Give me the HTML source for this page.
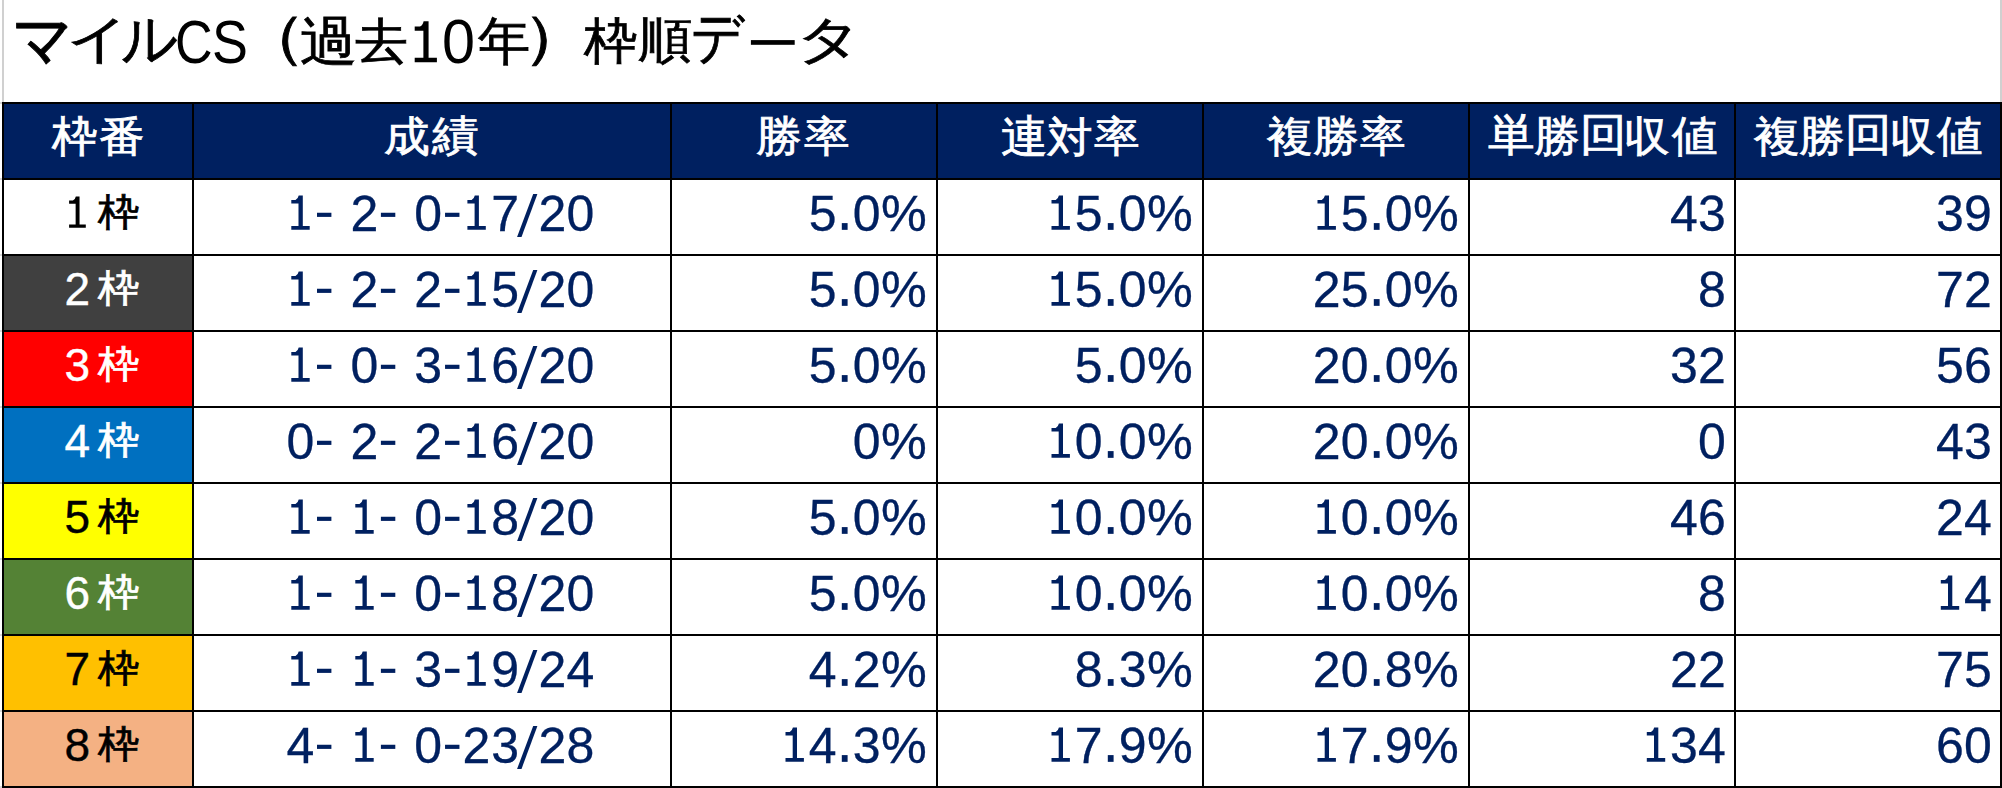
<!DOCTYPE html>
<html><head><meta charset="utf-8"><title>マイルCS（過去10年）枠順データ</title><style>
html,body{margin:0;padding:0;background:#fff;}
body{width:2002px;height:788px;overflow:hidden;position:relative;font-family:"Liberation Sans",sans-serif;}
.a{position:absolute;}
.h{position:absolute;white-space:nowrap;line-height:1;text-align:center;color:#fff;}
i{position:absolute;font-style:normal;line-height:1;white-space:nowrap;transform-origin:0 0;}
svg{position:absolute;left:0;top:0;}
</style></head><body>

<div class="a" style="left:2px;top:0;width:2px;height:102px;background:#d0d0d0"></div>
<div class="a" style="left:2000px;top:0;width:2px;height:102px;background:#d0d0d0"></div>
<div class="a" style="left:0;top:102px;width:2px;height:2px;background:#d8d8d8"></div>
<div class="a" style="left:0;top:178px;width:2px;height:2px;background:#d8d8d8"></div>
<div class="a" style="left:0;top:254px;width:2px;height:2px;background:#d8d8d8"></div>
<div class="a" style="left:0;top:330px;width:2px;height:2px;background:#d8d8d8"></div>
<div class="a" style="left:0;top:406px;width:2px;height:2px;background:#d8d8d8"></div>
<div class="a" style="left:0;top:482px;width:2px;height:2px;background:#d8d8d8"></div>
<div class="a" style="left:0;top:558px;width:2px;height:2px;background:#d8d8d8"></div>
<div class="a" style="left:0;top:634px;width:2px;height:2px;background:#d8d8d8"></div>
<div class="a" style="left:0;top:710px;width:2px;height:2px;background:#d8d8d8"></div>
<div class="a" style="left:0;top:786px;width:2px;height:2px;background:#d8d8d8"></div>
<div class="a" style="left:2px;top:102px;width:2000px;height:76px;background:#002060"></div>
<div class="a" style="left:2px;top:178px;width:190px;height:76px;background:#FFFFFF"></div>
<div class="a" style="left:2px;top:254px;width:190px;height:76px;background:#404040"></div>
<div class="a" style="left:2px;top:330px;width:190px;height:76px;background:#FF0000"></div>
<div class="a" style="left:2px;top:406px;width:190px;height:76px;background:#0070C0"></div>
<div class="a" style="left:2px;top:482px;width:190px;height:76px;background:#FFFF00"></div>
<div class="a" style="left:2px;top:558px;width:190px;height:76px;background:#548235"></div>
<div class="a" style="left:2px;top:634px;width:190px;height:76px;background:#FFC000"></div>
<div class="a" style="left:2px;top:710px;width:190px;height:76px;background:#F4B183"></div>
<div class="a" style="left:2px;top:102px;width:2px;height:686px;background:#000"></div>
<div class="a" style="left:192px;top:102px;width:2px;height:686px;background:#000"></div>
<div class="a" style="left:670px;top:102px;width:2px;height:686px;background:#000"></div>
<div class="a" style="left:936px;top:102px;width:2px;height:686px;background:#000"></div>
<div class="a" style="left:1202px;top:102px;width:2px;height:686px;background:#000"></div>
<div class="a" style="left:1468px;top:102px;width:2px;height:686px;background:#000"></div>
<div class="a" style="left:1734px;top:102px;width:2px;height:686px;background:#000"></div>
<div class="a" style="left:2000px;top:102px;width:2px;height:686px;background:#000"></div>
<div class="a" style="left:2px;top:102px;width:2000px;height:2px;background:#000"></div>
<div class="a" style="left:2px;top:178px;width:2000px;height:2px;background:#000"></div>
<div class="a" style="left:2px;top:254px;width:2000px;height:2px;background:#000"></div>
<div class="a" style="left:2px;top:330px;width:2000px;height:2px;background:#000"></div>
<div class="a" style="left:2px;top:406px;width:2000px;height:2px;background:#000"></div>
<div class="a" style="left:2px;top:482px;width:2000px;height:2px;background:#000"></div>
<div class="a" style="left:2px;top:558px;width:2000px;height:2px;background:#000"></div>
<div class="a" style="left:2px;top:634px;width:2000px;height:2px;background:#000"></div>
<div class="a" style="left:2px;top:710px;width:2000px;height:2px;background:#000"></div>
<div class="a" style="left:2px;top:786px;width:2000px;height:2px;background:#000"></div>
<i style="left:12.33px;top:8.23px;font-size:55px;color:#000;transform:scale(1.0935,1.1971);-webkit-text-stroke:0.8px #000">マ</i>
<i style="left:66.56px;top:13.14px;font-size:55px;color:#000;transform:scale(1.1095,0.9510);-webkit-text-stroke:0.8px #000">イ</i>
<i style="left:120.69px;top:10.29px;font-size:55px;color:#000;transform:scale(1.0111,1.0683);-webkit-text-stroke:0.8px #000">ル</i>
<i style="left:175.39px;top:11.82px;font-size:60px;color:#000;transform:scale(0.8684,1.0195)">C</i>
<i style="left:211.81px;top:11.82px;font-size:60px;color:#000;transform:scale(0.8971,1.0195)">S</i>
<i style="left:238.25px;top:7.70px;font-size:55px;color:#000;transform:scale(1.2500,1.0375);-webkit-text-stroke:0.8px #000">（</i>
<i style="left:299.56px;top:14.94px;font-size:55px;color:#000;transform:scale(1.0373,0.9816);-webkit-text-stroke:0.8px #000">過</i>
<i style="left:355.24px;top:16.90px;font-size:55px;color:#000;transform:scale(0.9577,0.8852);-webkit-text-stroke:0.8px #000">去</i>
<i style="left:442.42px;top:11.27px;font-size:60px;color:#000;transform:scale(0.9897,1.0366)">0</i>
<i style="left:477.50px;top:15.25px;font-size:55px;color:#000;transform:scale(0.9547,0.9500);-webkit-text-stroke:0.8px #000">年</i>
<i style="left:522.43px;top:7.62px;font-size:55px;color:#000;transform:scale(1.2583,1.0354);-webkit-text-stroke:0.8px #000">）</i>
<i style="left:584.40px;top:16.10px;font-size:55px;color:#000;transform:scale(0.9704,0.9038);-webkit-text-stroke:0.8px #000">枠</i>
<i style="left:637.52px;top:16.11px;font-size:55px;color:#000;transform:scale(0.9849,0.8889);-webkit-text-stroke:0.8px #000">順</i>
<i style="left:691.17px;top:7.86px;font-size:55px;color:#000;transform:scale(0.9444,1.0574);-webkit-text-stroke:0.8px #000">デ</i>
<i style="left:795.64px;top:13.86px;font-size:55px;color:#000;transform:scale(1.1925,0.9360);-webkit-text-stroke:0.8px #000">タ</i>
<i style="left:98.00px;top:193.00px;font-size:41px;color:#000;transform:scale(1.0250,0.9375);-webkit-text-stroke:0.8px #000">枠</i>
<i style="left:350.50px;top:189.00px;font-size:50px;color:#002060;-webkit-text-stroke:0.3px #002060">2</i>
<i style="left:414.20px;top:189.00px;font-size:50px;color:#002060;-webkit-text-stroke:0.3px #002060">0</i>
<i style="left:491.20px;top:189.00px;font-size:50px;color:#002060;-webkit-text-stroke:0.3px #002060">7</i>
<i style="left:538.40px;top:189.00px;font-size:50px;color:#002060;-webkit-text-stroke:0.3px #002060">2</i>
<i style="left:566.40px;top:189.00px;font-size:50px;color:#002060;-webkit-text-stroke:0.3px #002060">0</i>
<i style="left:881.18px;top:189.00px;font-size:50px;color:#002060;transform:scaleX(1.03);-webkit-text-stroke:0.3px #002060">%</i>
<i style="left:852.70px;top:189.00px;font-size:50px;color:#002060;-webkit-text-stroke:0.3px #002060">0</i>
<i style="left:808.70px;top:189.00px;font-size:50px;color:#002060;-webkit-text-stroke:0.3px #002060">5</i>
<i style="left:1147.17px;top:189.00px;font-size:50px;color:#002060;transform:scaleX(1.03);-webkit-text-stroke:0.3px #002060">%</i>
<i style="left:1118.70px;top:189.00px;font-size:50px;color:#002060;-webkit-text-stroke:0.3px #002060">0</i>
<i style="left:1074.70px;top:189.00px;font-size:50px;color:#002060;-webkit-text-stroke:0.3px #002060">5</i>
<i style="left:1413.17px;top:189.00px;font-size:50px;color:#002060;transform:scaleX(1.03);-webkit-text-stroke:0.3px #002060">%</i>
<i style="left:1384.70px;top:189.00px;font-size:50px;color:#002060;-webkit-text-stroke:0.3px #002060">0</i>
<i style="left:1340.70px;top:189.00px;font-size:50px;color:#002060;-webkit-text-stroke:0.3px #002060">5</i>
<i style="left:1698.00px;top:189.00px;font-size:50px;color:#002060;-webkit-text-stroke:0.3px #002060">3</i>
<i style="left:1670.00px;top:189.00px;font-size:50px;color:#002060;-webkit-text-stroke:0.3px #002060">4</i>
<i style="left:1964.00px;top:189.00px;font-size:50px;color:#002060;-webkit-text-stroke:0.3px #002060">9</i>
<i style="left:1936.00px;top:189.00px;font-size:50px;color:#002060;-webkit-text-stroke:0.3px #002060">3</i>
<i style="left:64.40px;top:266.00px;font-size:46px;color:#FFF;-webkit-text-stroke:0.4px #FFF">2</i>
<i style="left:98.00px;top:269.00px;font-size:41px;color:#FFF;transform:scale(1.0250,0.9375);-webkit-text-stroke:0.8px #FFF">枠</i>
<i style="left:350.50px;top:265.00px;font-size:50px;color:#002060;-webkit-text-stroke:0.3px #002060">2</i>
<i style="left:414.20px;top:265.00px;font-size:50px;color:#002060;-webkit-text-stroke:0.3px #002060">2</i>
<i style="left:491.20px;top:265.00px;font-size:50px;color:#002060;-webkit-text-stroke:0.3px #002060">5</i>
<i style="left:538.40px;top:265.00px;font-size:50px;color:#002060;-webkit-text-stroke:0.3px #002060">2</i>
<i style="left:566.40px;top:265.00px;font-size:50px;color:#002060;-webkit-text-stroke:0.3px #002060">0</i>
<i style="left:881.18px;top:265.00px;font-size:50px;color:#002060;transform:scaleX(1.03);-webkit-text-stroke:0.3px #002060">%</i>
<i style="left:852.70px;top:265.00px;font-size:50px;color:#002060;-webkit-text-stroke:0.3px #002060">0</i>
<i style="left:808.70px;top:265.00px;font-size:50px;color:#002060;-webkit-text-stroke:0.3px #002060">5</i>
<i style="left:1147.17px;top:265.00px;font-size:50px;color:#002060;transform:scaleX(1.03);-webkit-text-stroke:0.3px #002060">%</i>
<i style="left:1118.70px;top:265.00px;font-size:50px;color:#002060;-webkit-text-stroke:0.3px #002060">0</i>
<i style="left:1074.70px;top:265.00px;font-size:50px;color:#002060;-webkit-text-stroke:0.3px #002060">5</i>
<i style="left:1413.17px;top:265.00px;font-size:50px;color:#002060;transform:scaleX(1.03);-webkit-text-stroke:0.3px #002060">%</i>
<i style="left:1384.70px;top:265.00px;font-size:50px;color:#002060;-webkit-text-stroke:0.3px #002060">0</i>
<i style="left:1340.70px;top:265.00px;font-size:50px;color:#002060;-webkit-text-stroke:0.3px #002060">5</i>
<i style="left:1312.70px;top:265.00px;font-size:50px;color:#002060;-webkit-text-stroke:0.3px #002060">2</i>
<i style="left:1698.00px;top:265.00px;font-size:50px;color:#002060;-webkit-text-stroke:0.3px #002060">8</i>
<i style="left:1964.00px;top:265.00px;font-size:50px;color:#002060;-webkit-text-stroke:0.3px #002060">2</i>
<i style="left:1936.00px;top:265.00px;font-size:50px;color:#002060;-webkit-text-stroke:0.3px #002060">7</i>
<i style="left:64.40px;top:342.00px;font-size:46px;color:#FFF;-webkit-text-stroke:0.4px #FFF">3</i>
<i style="left:98.00px;top:345.00px;font-size:41px;color:#FFF;transform:scale(1.0250,0.9375);-webkit-text-stroke:0.8px #FFF">枠</i>
<i style="left:350.50px;top:341.00px;font-size:50px;color:#002060;-webkit-text-stroke:0.3px #002060">0</i>
<i style="left:414.20px;top:341.00px;font-size:50px;color:#002060;-webkit-text-stroke:0.3px #002060">3</i>
<i style="left:491.20px;top:341.00px;font-size:50px;color:#002060;-webkit-text-stroke:0.3px #002060">6</i>
<i style="left:538.40px;top:341.00px;font-size:50px;color:#002060;-webkit-text-stroke:0.3px #002060">2</i>
<i style="left:566.40px;top:341.00px;font-size:50px;color:#002060;-webkit-text-stroke:0.3px #002060">0</i>
<i style="left:881.18px;top:341.00px;font-size:50px;color:#002060;transform:scaleX(1.03);-webkit-text-stroke:0.3px #002060">%</i>
<i style="left:852.70px;top:341.00px;font-size:50px;color:#002060;-webkit-text-stroke:0.3px #002060">0</i>
<i style="left:808.70px;top:341.00px;font-size:50px;color:#002060;-webkit-text-stroke:0.3px #002060">5</i>
<i style="left:1147.17px;top:341.00px;font-size:50px;color:#002060;transform:scaleX(1.03);-webkit-text-stroke:0.3px #002060">%</i>
<i style="left:1118.70px;top:341.00px;font-size:50px;color:#002060;-webkit-text-stroke:0.3px #002060">0</i>
<i style="left:1074.70px;top:341.00px;font-size:50px;color:#002060;-webkit-text-stroke:0.3px #002060">5</i>
<i style="left:1413.17px;top:341.00px;font-size:50px;color:#002060;transform:scaleX(1.03);-webkit-text-stroke:0.3px #002060">%</i>
<i style="left:1384.70px;top:341.00px;font-size:50px;color:#002060;-webkit-text-stroke:0.3px #002060">0</i>
<i style="left:1340.70px;top:341.00px;font-size:50px;color:#002060;-webkit-text-stroke:0.3px #002060">0</i>
<i style="left:1312.70px;top:341.00px;font-size:50px;color:#002060;-webkit-text-stroke:0.3px #002060">2</i>
<i style="left:1698.00px;top:341.00px;font-size:50px;color:#002060;-webkit-text-stroke:0.3px #002060">2</i>
<i style="left:1670.00px;top:341.00px;font-size:50px;color:#002060;-webkit-text-stroke:0.3px #002060">3</i>
<i style="left:1964.00px;top:341.00px;font-size:50px;color:#002060;-webkit-text-stroke:0.3px #002060">6</i>
<i style="left:1936.00px;top:341.00px;font-size:50px;color:#002060;-webkit-text-stroke:0.3px #002060">5</i>
<i style="left:64.40px;top:418.00px;font-size:46px;color:#FFF;-webkit-text-stroke:0.4px #FFF">4</i>
<i style="left:98.00px;top:421.00px;font-size:41px;color:#FFF;transform:scale(1.0250,0.9375);-webkit-text-stroke:0.8px #FFF">枠</i>
<i style="left:286.50px;top:417.00px;font-size:50px;color:#002060;-webkit-text-stroke:0.3px #002060">0</i>
<i style="left:350.50px;top:417.00px;font-size:50px;color:#002060;-webkit-text-stroke:0.3px #002060">2</i>
<i style="left:414.20px;top:417.00px;font-size:50px;color:#002060;-webkit-text-stroke:0.3px #002060">2</i>
<i style="left:491.20px;top:417.00px;font-size:50px;color:#002060;-webkit-text-stroke:0.3px #002060">6</i>
<i style="left:538.40px;top:417.00px;font-size:50px;color:#002060;-webkit-text-stroke:0.3px #002060">2</i>
<i style="left:566.40px;top:417.00px;font-size:50px;color:#002060;-webkit-text-stroke:0.3px #002060">0</i>
<i style="left:881.18px;top:417.00px;font-size:50px;color:#002060;transform:scaleX(1.03);-webkit-text-stroke:0.3px #002060">%</i>
<i style="left:852.70px;top:417.00px;font-size:50px;color:#002060;-webkit-text-stroke:0.3px #002060">0</i>
<i style="left:1147.17px;top:417.00px;font-size:50px;color:#002060;transform:scaleX(1.03);-webkit-text-stroke:0.3px #002060">%</i>
<i style="left:1118.70px;top:417.00px;font-size:50px;color:#002060;-webkit-text-stroke:0.3px #002060">0</i>
<i style="left:1074.70px;top:417.00px;font-size:50px;color:#002060;-webkit-text-stroke:0.3px #002060">0</i>
<i style="left:1413.17px;top:417.00px;font-size:50px;color:#002060;transform:scaleX(1.03);-webkit-text-stroke:0.3px #002060">%</i>
<i style="left:1384.70px;top:417.00px;font-size:50px;color:#002060;-webkit-text-stroke:0.3px #002060">0</i>
<i style="left:1340.70px;top:417.00px;font-size:50px;color:#002060;-webkit-text-stroke:0.3px #002060">0</i>
<i style="left:1312.70px;top:417.00px;font-size:50px;color:#002060;-webkit-text-stroke:0.3px #002060">2</i>
<i style="left:1698.00px;top:417.00px;font-size:50px;color:#002060;-webkit-text-stroke:0.3px #002060">0</i>
<i style="left:1964.00px;top:417.00px;font-size:50px;color:#002060;-webkit-text-stroke:0.3px #002060">3</i>
<i style="left:1936.00px;top:417.00px;font-size:50px;color:#002060;-webkit-text-stroke:0.3px #002060">4</i>
<i style="left:64.40px;top:494.00px;font-size:46px;color:#000;-webkit-text-stroke:0.4px #000">5</i>
<i style="left:98.00px;top:497.00px;font-size:41px;color:#000;transform:scale(1.0250,0.9375);-webkit-text-stroke:0.8px #000">枠</i>
<i style="left:414.20px;top:493.00px;font-size:50px;color:#002060;-webkit-text-stroke:0.3px #002060">0</i>
<i style="left:491.20px;top:493.00px;font-size:50px;color:#002060;-webkit-text-stroke:0.3px #002060">8</i>
<i style="left:538.40px;top:493.00px;font-size:50px;color:#002060;-webkit-text-stroke:0.3px #002060">2</i>
<i style="left:566.40px;top:493.00px;font-size:50px;color:#002060;-webkit-text-stroke:0.3px #002060">0</i>
<i style="left:881.18px;top:493.00px;font-size:50px;color:#002060;transform:scaleX(1.03);-webkit-text-stroke:0.3px #002060">%</i>
<i style="left:852.70px;top:493.00px;font-size:50px;color:#002060;-webkit-text-stroke:0.3px #002060">0</i>
<i style="left:808.70px;top:493.00px;font-size:50px;color:#002060;-webkit-text-stroke:0.3px #002060">5</i>
<i style="left:1147.17px;top:493.00px;font-size:50px;color:#002060;transform:scaleX(1.03);-webkit-text-stroke:0.3px #002060">%</i>
<i style="left:1118.70px;top:493.00px;font-size:50px;color:#002060;-webkit-text-stroke:0.3px #002060">0</i>
<i style="left:1074.70px;top:493.00px;font-size:50px;color:#002060;-webkit-text-stroke:0.3px #002060">0</i>
<i style="left:1413.17px;top:493.00px;font-size:50px;color:#002060;transform:scaleX(1.03);-webkit-text-stroke:0.3px #002060">%</i>
<i style="left:1384.70px;top:493.00px;font-size:50px;color:#002060;-webkit-text-stroke:0.3px #002060">0</i>
<i style="left:1340.70px;top:493.00px;font-size:50px;color:#002060;-webkit-text-stroke:0.3px #002060">0</i>
<i style="left:1698.00px;top:493.00px;font-size:50px;color:#002060;-webkit-text-stroke:0.3px #002060">6</i>
<i style="left:1670.00px;top:493.00px;font-size:50px;color:#002060;-webkit-text-stroke:0.3px #002060">4</i>
<i style="left:1964.00px;top:493.00px;font-size:50px;color:#002060;-webkit-text-stroke:0.3px #002060">4</i>
<i style="left:1936.00px;top:493.00px;font-size:50px;color:#002060;-webkit-text-stroke:0.3px #002060">2</i>
<i style="left:64.40px;top:570.00px;font-size:46px;color:#FFF;-webkit-text-stroke:0.4px #FFF">6</i>
<i style="left:98.00px;top:573.00px;font-size:41px;color:#FFF;transform:scale(1.0250,0.9375);-webkit-text-stroke:0.8px #FFF">枠</i>
<i style="left:414.20px;top:569.00px;font-size:50px;color:#002060;-webkit-text-stroke:0.3px #002060">0</i>
<i style="left:491.20px;top:569.00px;font-size:50px;color:#002060;-webkit-text-stroke:0.3px #002060">8</i>
<i style="left:538.40px;top:569.00px;font-size:50px;color:#002060;-webkit-text-stroke:0.3px #002060">2</i>
<i style="left:566.40px;top:569.00px;font-size:50px;color:#002060;-webkit-text-stroke:0.3px #002060">0</i>
<i style="left:881.18px;top:569.00px;font-size:50px;color:#002060;transform:scaleX(1.03);-webkit-text-stroke:0.3px #002060">%</i>
<i style="left:852.70px;top:569.00px;font-size:50px;color:#002060;-webkit-text-stroke:0.3px #002060">0</i>
<i style="left:808.70px;top:569.00px;font-size:50px;color:#002060;-webkit-text-stroke:0.3px #002060">5</i>
<i style="left:1147.17px;top:569.00px;font-size:50px;color:#002060;transform:scaleX(1.03);-webkit-text-stroke:0.3px #002060">%</i>
<i style="left:1118.70px;top:569.00px;font-size:50px;color:#002060;-webkit-text-stroke:0.3px #002060">0</i>
<i style="left:1074.70px;top:569.00px;font-size:50px;color:#002060;-webkit-text-stroke:0.3px #002060">0</i>
<i style="left:1413.17px;top:569.00px;font-size:50px;color:#002060;transform:scaleX(1.03);-webkit-text-stroke:0.3px #002060">%</i>
<i style="left:1384.70px;top:569.00px;font-size:50px;color:#002060;-webkit-text-stroke:0.3px #002060">0</i>
<i style="left:1340.70px;top:569.00px;font-size:50px;color:#002060;-webkit-text-stroke:0.3px #002060">0</i>
<i style="left:1698.00px;top:569.00px;font-size:50px;color:#002060;-webkit-text-stroke:0.3px #002060">8</i>
<i style="left:1964.00px;top:569.00px;font-size:50px;color:#002060;-webkit-text-stroke:0.3px #002060">4</i>
<i style="left:64.40px;top:646.00px;font-size:46px;color:#000;-webkit-text-stroke:0.4px #000">7</i>
<i style="left:98.00px;top:649.00px;font-size:41px;color:#000;transform:scale(1.0250,0.9375);-webkit-text-stroke:0.8px #000">枠</i>
<i style="left:414.20px;top:645.00px;font-size:50px;color:#002060;-webkit-text-stroke:0.3px #002060">3</i>
<i style="left:491.20px;top:645.00px;font-size:50px;color:#002060;-webkit-text-stroke:0.3px #002060">9</i>
<i style="left:538.40px;top:645.00px;font-size:50px;color:#002060;-webkit-text-stroke:0.3px #002060">2</i>
<i style="left:566.40px;top:645.00px;font-size:50px;color:#002060;-webkit-text-stroke:0.3px #002060">4</i>
<i style="left:881.18px;top:645.00px;font-size:50px;color:#002060;transform:scaleX(1.03);-webkit-text-stroke:0.3px #002060">%</i>
<i style="left:852.70px;top:645.00px;font-size:50px;color:#002060;-webkit-text-stroke:0.3px #002060">2</i>
<i style="left:808.70px;top:645.00px;font-size:50px;color:#002060;-webkit-text-stroke:0.3px #002060">4</i>
<i style="left:1147.17px;top:645.00px;font-size:50px;color:#002060;transform:scaleX(1.03);-webkit-text-stroke:0.3px #002060">%</i>
<i style="left:1118.70px;top:645.00px;font-size:50px;color:#002060;-webkit-text-stroke:0.3px #002060">3</i>
<i style="left:1074.70px;top:645.00px;font-size:50px;color:#002060;-webkit-text-stroke:0.3px #002060">8</i>
<i style="left:1413.17px;top:645.00px;font-size:50px;color:#002060;transform:scaleX(1.03);-webkit-text-stroke:0.3px #002060">%</i>
<i style="left:1384.70px;top:645.00px;font-size:50px;color:#002060;-webkit-text-stroke:0.3px #002060">8</i>
<i style="left:1340.70px;top:645.00px;font-size:50px;color:#002060;-webkit-text-stroke:0.3px #002060">0</i>
<i style="left:1312.70px;top:645.00px;font-size:50px;color:#002060;-webkit-text-stroke:0.3px #002060">2</i>
<i style="left:1698.00px;top:645.00px;font-size:50px;color:#002060;-webkit-text-stroke:0.3px #002060">2</i>
<i style="left:1670.00px;top:645.00px;font-size:50px;color:#002060;-webkit-text-stroke:0.3px #002060">2</i>
<i style="left:1964.00px;top:645.00px;font-size:50px;color:#002060;-webkit-text-stroke:0.3px #002060">5</i>
<i style="left:1936.00px;top:645.00px;font-size:50px;color:#002060;-webkit-text-stroke:0.3px #002060">7</i>
<i style="left:64.40px;top:722.00px;font-size:46px;color:#000;-webkit-text-stroke:0.4px #000">8</i>
<i style="left:98.00px;top:725.00px;font-size:41px;color:#000;transform:scale(1.0250,0.9375);-webkit-text-stroke:0.8px #000">枠</i>
<i style="left:286.50px;top:721.00px;font-size:50px;color:#002060;-webkit-text-stroke:0.3px #002060">4</i>
<i style="left:414.20px;top:721.00px;font-size:50px;color:#002060;-webkit-text-stroke:0.3px #002060">0</i>
<i style="left:462.60px;top:721.00px;font-size:50px;color:#002060;-webkit-text-stroke:0.3px #002060">2</i>
<i style="left:491.20px;top:721.00px;font-size:50px;color:#002060;-webkit-text-stroke:0.3px #002060">3</i>
<i style="left:538.40px;top:721.00px;font-size:50px;color:#002060;-webkit-text-stroke:0.3px #002060">2</i>
<i style="left:566.40px;top:721.00px;font-size:50px;color:#002060;-webkit-text-stroke:0.3px #002060">8</i>
<i style="left:881.18px;top:721.00px;font-size:50px;color:#002060;transform:scaleX(1.03);-webkit-text-stroke:0.3px #002060">%</i>
<i style="left:852.70px;top:721.00px;font-size:50px;color:#002060;-webkit-text-stroke:0.3px #002060">3</i>
<i style="left:808.70px;top:721.00px;font-size:50px;color:#002060;-webkit-text-stroke:0.3px #002060">4</i>
<i style="left:1147.17px;top:721.00px;font-size:50px;color:#002060;transform:scaleX(1.03);-webkit-text-stroke:0.3px #002060">%</i>
<i style="left:1118.70px;top:721.00px;font-size:50px;color:#002060;-webkit-text-stroke:0.3px #002060">9</i>
<i style="left:1074.70px;top:721.00px;font-size:50px;color:#002060;-webkit-text-stroke:0.3px #002060">7</i>
<i style="left:1413.17px;top:721.00px;font-size:50px;color:#002060;transform:scaleX(1.03);-webkit-text-stroke:0.3px #002060">%</i>
<i style="left:1384.70px;top:721.00px;font-size:50px;color:#002060;-webkit-text-stroke:0.3px #002060">9</i>
<i style="left:1340.70px;top:721.00px;font-size:50px;color:#002060;-webkit-text-stroke:0.3px #002060">7</i>
<i style="left:1698.00px;top:721.00px;font-size:50px;color:#002060;-webkit-text-stroke:0.3px #002060">4</i>
<i style="left:1670.00px;top:721.00px;font-size:50px;color:#002060;-webkit-text-stroke:0.3px #002060">3</i>
<i style="left:1964.00px;top:721.00px;font-size:50px;color:#002060;-webkit-text-stroke:0.3px #002060">0</i>
<i style="left:1936.00px;top:721.00px;font-size:50px;color:#002060;-webkit-text-stroke:0.3px #002060">6</i>
<i style="left:52.15px;top:114.31px;font-size:44px;color:#fff;transform:scale(1.0500,0.9881);-webkit-text-stroke:0.8px #fff">枠</i>
<i style="left:98.72px;top:115.30px;font-size:44px;color:#fff;transform:scale(1.0500,0.9651);-webkit-text-stroke:0.8px #fff">番</i>
<i style="left:383.95px;top:115.30px;font-size:44px;color:#fff;transform:scale(1.0500,0.9651);-webkit-text-stroke:0.8px #fff">成</i>
<i style="left:432.10px;top:115.30px;font-size:44px;color:#fff;transform:scale(1.0500,0.9432);-webkit-text-stroke:0.8px #fff">績</i>
<i style="left:756.35px;top:114.31px;font-size:44px;color:#fff;transform:scale(1.0500,0.9881);-webkit-text-stroke:0.8px #fff">勝</i>
<i style="left:803.97px;top:115.30px;font-size:44px;color:#fff;transform:scale(1.0500,0.9651);-webkit-text-stroke:0.8px #fff">率</i>
<i style="left:1000.92px;top:115.30px;font-size:44px;color:#fff;transform:scale(1.0500,1.0122);-webkit-text-stroke:0.8px #fff">連</i>
<i style="left:1047.42px;top:116.27px;font-size:44px;color:#fff;transform:scale(1.0500,0.9651);-webkit-text-stroke:0.8px #fff">対</i>
<i style="left:1093.92px;top:115.30px;font-size:44px;color:#fff;transform:scale(1.0500,0.9651);-webkit-text-stroke:0.8px #fff">率</i>
<i style="left:1267.45px;top:115.30px;font-size:44px;color:#fff;transform:scale(1.0500,0.9651);-webkit-text-stroke:0.8px #fff">複</i>
<i style="left:1312.90px;top:114.31px;font-size:44px;color:#fff;transform:scale(1.0500,0.9881);-webkit-text-stroke:0.8px #fff">勝</i>
<i style="left:1359.92px;top:115.30px;font-size:44px;color:#fff;transform:scale(1.0500,0.9651);-webkit-text-stroke:0.8px #fff">率</i>
<i style="left:1488.12px;top:113.28px;font-size:44px;color:#fff;transform:scale(1.0500,1.0122);-webkit-text-stroke:0.8px #fff">単</i>
<i style="left:1533.50px;top:114.31px;font-size:44px;color:#fff;transform:scale(1.0500,0.9881);-webkit-text-stroke:0.8px #fff">勝</i>
<i style="left:1579.92px;top:113.28px;font-size:44px;color:#fff;transform:scale(1.0500,1.0122);-webkit-text-stroke:0.8px #fff">回</i>
<i style="left:1624.25px;top:115.30px;font-size:44px;color:#fff;transform:scale(1.0500,0.9651);-webkit-text-stroke:0.8px #fff">収</i>
<i style="left:1671.72px;top:114.31px;font-size:44px;color:#fff;transform:scale(1.0500,0.9881);-webkit-text-stroke:0.8px #fff">値</i>
<i style="left:1754.15px;top:115.30px;font-size:44px;color:#fff;transform:scale(1.0500,0.9651);-webkit-text-stroke:0.8px #fff">複</i>
<i style="left:1799.00px;top:114.31px;font-size:44px;color:#fff;transform:scale(1.0500,0.9881);-webkit-text-stroke:0.8px #fff">勝</i>
<i style="left:1845.42px;top:113.28px;font-size:44px;color:#fff;transform:scale(1.0500,1.0122);-webkit-text-stroke:0.8px #fff">回</i>
<i style="left:1889.75px;top:115.30px;font-size:44px;color:#fff;transform:scale(1.0500,0.9651);-webkit-text-stroke:0.8px #fff">収</i>
<i style="left:1937.22px;top:114.31px;font-size:44px;color:#fff;transform:scale(1.0500,0.9881);-webkit-text-stroke:0.8px #fff">値</i>
<svg width="2002" height="788" viewBox="0 0 2002 788">
<path d="M0,4.5 L4.2,4.5 Q6.6,3.6 7.4,0 L11.5,0 L11.5,30.6 L18.4,30.6 L18.4,34.3 L0,34.3 L0,30.6 L7.2,30.6 L7.2,8 L0,8 Z" transform="translate(414.70 21.20) scale(1.2065 1.1953)" fill="#000"/>
<rect x="750.90" y="40.10" width="43.80" height="4.70" fill="#000"/>
<path d="M0,4.5 L4.2,4.5 Q6.6,3.6 7.4,0 L11.5,0 L11.5,30.6 L18.4,30.6 L18.4,34.3 L0,34.3 L0,30.6 L7.2,30.6 L7.2,8 L0,8 Z" transform="translate(69.10 196.40) scale(0.9076 0.9155)" fill="#000"/>
<path d="M0,4.5 L4.2,4.5 Q6.6,3.6 7.4,0 L11.5,0 L11.5,30.6 L18.4,30.6 L18.4,34.3 L0,34.3 L0,30.6 L7.2,30.6 L7.2,8 L0,8 Z" transform="translate(291.30 195.50) scale(1.0000 1.0000)" fill="#002060"/>
<path d="M0,4.5 L4.2,4.5 Q6.6,3.6 7.4,0 L11.5,0 L11.5,30.6 L18.4,30.6 L18.4,34.3 L0,34.3 L0,30.6 L7.2,30.6 L7.2,8 L0,8 Z" transform="translate(467.40 195.50) scale(1.0000 1.0000)" fill="#002060"/>
<rect x="317.00" y="212.75" width="14.40" height="4.15" fill="#002060"/>
<rect x="380.90" y="212.75" width="14.40" height="4.15" fill="#002060"/>
<rect x="445.05" y="212.75" width="14.40" height="4.15" fill="#002060"/>
<polygon points="533.20,194.10 537.40,194.10 521.50,236.90 517.10,236.90" fill="#002060"/>
<rect x="841.80" y="223.10" width="5.80" height="6.75" fill="#002060"/>
<rect x="1107.80" y="223.10" width="5.80" height="6.75" fill="#002060"/>
<path d="M0,4.5 L4.2,4.5 Q6.6,3.6 7.4,0 L11.5,0 L11.5,30.6 L18.4,30.6 L18.4,34.3 L0,34.3 L0,30.6 L7.2,30.6 L7.2,8 L0,8 Z" transform="translate(1051.50 195.50) scale(1.0000 1.0000)" fill="#002060"/>
<rect x="1373.80" y="223.10" width="5.80" height="6.75" fill="#002060"/>
<path d="M0,4.5 L4.2,4.5 Q6.6,3.6 7.4,0 L11.5,0 L11.5,30.6 L18.4,30.6 L18.4,34.3 L0,34.3 L0,30.6 L7.2,30.6 L7.2,8 L0,8 Z" transform="translate(1317.50 195.50) scale(1.0000 1.0000)" fill="#002060"/>
<path d="M0,4.5 L4.2,4.5 Q6.6,3.6 7.4,0 L11.5,0 L11.5,30.6 L18.4,30.6 L18.4,34.3 L0,34.3 L0,30.6 L7.2,30.6 L7.2,8 L0,8 Z" transform="translate(291.30 271.50) scale(1.0000 1.0000)" fill="#002060"/>
<path d="M0,4.5 L4.2,4.5 Q6.6,3.6 7.4,0 L11.5,0 L11.5,30.6 L18.4,30.6 L18.4,34.3 L0,34.3 L0,30.6 L7.2,30.6 L7.2,8 L0,8 Z" transform="translate(467.40 271.50) scale(1.0000 1.0000)" fill="#002060"/>
<rect x="317.00" y="288.75" width="14.40" height="4.15" fill="#002060"/>
<rect x="380.90" y="288.75" width="14.40" height="4.15" fill="#002060"/>
<rect x="445.05" y="288.75" width="14.40" height="4.15" fill="#002060"/>
<polygon points="533.20,270.10 537.40,270.10 521.50,312.90 517.10,312.90" fill="#002060"/>
<rect x="841.80" y="299.10" width="5.80" height="6.75" fill="#002060"/>
<rect x="1107.80" y="299.10" width="5.80" height="6.75" fill="#002060"/>
<path d="M0,4.5 L4.2,4.5 Q6.6,3.6 7.4,0 L11.5,0 L11.5,30.6 L18.4,30.6 L18.4,34.3 L0,34.3 L0,30.6 L7.2,30.6 L7.2,8 L0,8 Z" transform="translate(1051.50 271.50) scale(1.0000 1.0000)" fill="#002060"/>
<rect x="1373.80" y="299.10" width="5.80" height="6.75" fill="#002060"/>
<path d="M0,4.5 L4.2,4.5 Q6.6,3.6 7.4,0 L11.5,0 L11.5,30.6 L18.4,30.6 L18.4,34.3 L0,34.3 L0,30.6 L7.2,30.6 L7.2,8 L0,8 Z" transform="translate(291.30 347.50) scale(1.0000 1.0000)" fill="#002060"/>
<path d="M0,4.5 L4.2,4.5 Q6.6,3.6 7.4,0 L11.5,0 L11.5,30.6 L18.4,30.6 L18.4,34.3 L0,34.3 L0,30.6 L7.2,30.6 L7.2,8 L0,8 Z" transform="translate(467.40 347.50) scale(1.0000 1.0000)" fill="#002060"/>
<rect x="317.00" y="364.75" width="14.40" height="4.15" fill="#002060"/>
<rect x="380.90" y="364.75" width="14.40" height="4.15" fill="#002060"/>
<rect x="445.05" y="364.75" width="14.40" height="4.15" fill="#002060"/>
<polygon points="533.20,346.10 537.40,346.10 521.50,388.90 517.10,388.90" fill="#002060"/>
<rect x="841.80" y="375.10" width="5.80" height="6.75" fill="#002060"/>
<rect x="1107.80" y="375.10" width="5.80" height="6.75" fill="#002060"/>
<rect x="1373.80" y="375.10" width="5.80" height="6.75" fill="#002060"/>
<path d="M0,4.5 L4.2,4.5 Q6.6,3.6 7.4,0 L11.5,0 L11.5,30.6 L18.4,30.6 L18.4,34.3 L0,34.3 L0,30.6 L7.2,30.6 L7.2,8 L0,8 Z" transform="translate(467.40 423.50) scale(1.0000 1.0000)" fill="#002060"/>
<rect x="317.00" y="440.75" width="14.40" height="4.15" fill="#002060"/>
<rect x="380.90" y="440.75" width="14.40" height="4.15" fill="#002060"/>
<rect x="445.05" y="440.75" width="14.40" height="4.15" fill="#002060"/>
<polygon points="533.20,422.10 537.40,422.10 521.50,464.90 517.10,464.90" fill="#002060"/>
<rect x="1107.80" y="451.10" width="5.80" height="6.75" fill="#002060"/>
<path d="M0,4.5 L4.2,4.5 Q6.6,3.6 7.4,0 L11.5,0 L11.5,30.6 L18.4,30.6 L18.4,34.3 L0,34.3 L0,30.6 L7.2,30.6 L7.2,8 L0,8 Z" transform="translate(1051.50 423.50) scale(1.0000 1.0000)" fill="#002060"/>
<rect x="1373.80" y="451.10" width="5.80" height="6.75" fill="#002060"/>
<path d="M0,4.5 L4.2,4.5 Q6.6,3.6 7.4,0 L11.5,0 L11.5,30.6 L18.4,30.6 L18.4,34.3 L0,34.3 L0,30.6 L7.2,30.6 L7.2,8 L0,8 Z" transform="translate(291.30 499.50) scale(1.0000 1.0000)" fill="#002060"/>
<path d="M0,4.5 L4.2,4.5 Q6.6,3.6 7.4,0 L11.5,0 L11.5,30.6 L18.4,30.6 L18.4,34.3 L0,34.3 L0,30.6 L7.2,30.6 L7.2,8 L0,8 Z" transform="translate(355.30 499.50) scale(1.0000 1.0000)" fill="#002060"/>
<path d="M0,4.5 L4.2,4.5 Q6.6,3.6 7.4,0 L11.5,0 L11.5,30.6 L18.4,30.6 L18.4,34.3 L0,34.3 L0,30.6 L7.2,30.6 L7.2,8 L0,8 Z" transform="translate(467.40 499.50) scale(1.0000 1.0000)" fill="#002060"/>
<rect x="317.00" y="516.75" width="14.40" height="4.15" fill="#002060"/>
<rect x="380.90" y="516.75" width="14.40" height="4.15" fill="#002060"/>
<rect x="445.05" y="516.75" width="14.40" height="4.15" fill="#002060"/>
<polygon points="533.20,498.10 537.40,498.10 521.50,540.90 517.10,540.90" fill="#002060"/>
<rect x="841.80" y="527.10" width="5.80" height="6.75" fill="#002060"/>
<rect x="1107.80" y="527.10" width="5.80" height="6.75" fill="#002060"/>
<path d="M0,4.5 L4.2,4.5 Q6.6,3.6 7.4,0 L11.5,0 L11.5,30.6 L18.4,30.6 L18.4,34.3 L0,34.3 L0,30.6 L7.2,30.6 L7.2,8 L0,8 Z" transform="translate(1051.50 499.50) scale(1.0000 1.0000)" fill="#002060"/>
<rect x="1373.80" y="527.10" width="5.80" height="6.75" fill="#002060"/>
<path d="M0,4.5 L4.2,4.5 Q6.6,3.6 7.4,0 L11.5,0 L11.5,30.6 L18.4,30.6 L18.4,34.3 L0,34.3 L0,30.6 L7.2,30.6 L7.2,8 L0,8 Z" transform="translate(1317.50 499.50) scale(1.0000 1.0000)" fill="#002060"/>
<path d="M0,4.5 L4.2,4.5 Q6.6,3.6 7.4,0 L11.5,0 L11.5,30.6 L18.4,30.6 L18.4,34.3 L0,34.3 L0,30.6 L7.2,30.6 L7.2,8 L0,8 Z" transform="translate(291.30 575.50) scale(1.0000 1.0000)" fill="#002060"/>
<path d="M0,4.5 L4.2,4.5 Q6.6,3.6 7.4,0 L11.5,0 L11.5,30.6 L18.4,30.6 L18.4,34.3 L0,34.3 L0,30.6 L7.2,30.6 L7.2,8 L0,8 Z" transform="translate(355.30 575.50) scale(1.0000 1.0000)" fill="#002060"/>
<path d="M0,4.5 L4.2,4.5 Q6.6,3.6 7.4,0 L11.5,0 L11.5,30.6 L18.4,30.6 L18.4,34.3 L0,34.3 L0,30.6 L7.2,30.6 L7.2,8 L0,8 Z" transform="translate(467.40 575.50) scale(1.0000 1.0000)" fill="#002060"/>
<rect x="317.00" y="592.75" width="14.40" height="4.15" fill="#002060"/>
<rect x="380.90" y="592.75" width="14.40" height="4.15" fill="#002060"/>
<rect x="445.05" y="592.75" width="14.40" height="4.15" fill="#002060"/>
<polygon points="533.20,574.10 537.40,574.10 521.50,616.90 517.10,616.90" fill="#002060"/>
<rect x="841.80" y="603.10" width="5.80" height="6.75" fill="#002060"/>
<rect x="1107.80" y="603.10" width="5.80" height="6.75" fill="#002060"/>
<path d="M0,4.5 L4.2,4.5 Q6.6,3.6 7.4,0 L11.5,0 L11.5,30.6 L18.4,30.6 L18.4,34.3 L0,34.3 L0,30.6 L7.2,30.6 L7.2,8 L0,8 Z" transform="translate(1051.50 575.50) scale(1.0000 1.0000)" fill="#002060"/>
<rect x="1373.80" y="603.10" width="5.80" height="6.75" fill="#002060"/>
<path d="M0,4.5 L4.2,4.5 Q6.6,3.6 7.4,0 L11.5,0 L11.5,30.6 L18.4,30.6 L18.4,34.3 L0,34.3 L0,30.6 L7.2,30.6 L7.2,8 L0,8 Z" transform="translate(1317.50 575.50) scale(1.0000 1.0000)" fill="#002060"/>
<path d="M0,4.5 L4.2,4.5 Q6.6,3.6 7.4,0 L11.5,0 L11.5,30.6 L18.4,30.6 L18.4,34.3 L0,34.3 L0,30.6 L7.2,30.6 L7.2,8 L0,8 Z" transform="translate(1940.80 575.50) scale(1.0000 1.0000)" fill="#002060"/>
<path d="M0,4.5 L4.2,4.5 Q6.6,3.6 7.4,0 L11.5,0 L11.5,30.6 L18.4,30.6 L18.4,34.3 L0,34.3 L0,30.6 L7.2,30.6 L7.2,8 L0,8 Z" transform="translate(291.30 651.50) scale(1.0000 1.0000)" fill="#002060"/>
<path d="M0,4.5 L4.2,4.5 Q6.6,3.6 7.4,0 L11.5,0 L11.5,30.6 L18.4,30.6 L18.4,34.3 L0,34.3 L0,30.6 L7.2,30.6 L7.2,8 L0,8 Z" transform="translate(355.30 651.50) scale(1.0000 1.0000)" fill="#002060"/>
<path d="M0,4.5 L4.2,4.5 Q6.6,3.6 7.4,0 L11.5,0 L11.5,30.6 L18.4,30.6 L18.4,34.3 L0,34.3 L0,30.6 L7.2,30.6 L7.2,8 L0,8 Z" transform="translate(467.40 651.50) scale(1.0000 1.0000)" fill="#002060"/>
<rect x="317.00" y="668.75" width="14.40" height="4.15" fill="#002060"/>
<rect x="380.90" y="668.75" width="14.40" height="4.15" fill="#002060"/>
<rect x="445.05" y="668.75" width="14.40" height="4.15" fill="#002060"/>
<polygon points="533.20,650.10 537.40,650.10 521.50,692.90 517.10,692.90" fill="#002060"/>
<rect x="841.80" y="679.10" width="5.80" height="6.75" fill="#002060"/>
<rect x="1107.80" y="679.10" width="5.80" height="6.75" fill="#002060"/>
<rect x="1373.80" y="679.10" width="5.80" height="6.75" fill="#002060"/>
<path d="M0,4.5 L4.2,4.5 Q6.6,3.6 7.4,0 L11.5,0 L11.5,30.6 L18.4,30.6 L18.4,34.3 L0,34.3 L0,30.6 L7.2,30.6 L7.2,8 L0,8 Z" transform="translate(355.30 727.50) scale(1.0000 1.0000)" fill="#002060"/>
<rect x="317.00" y="744.75" width="14.40" height="4.15" fill="#002060"/>
<rect x="380.90" y="744.75" width="14.40" height="4.15" fill="#002060"/>
<rect x="445.05" y="744.75" width="14.40" height="4.15" fill="#002060"/>
<polygon points="533.20,726.10 537.40,726.10 521.50,768.90 517.10,768.90" fill="#002060"/>
<rect x="841.80" y="755.10" width="5.80" height="6.75" fill="#002060"/>
<path d="M0,4.5 L4.2,4.5 Q6.6,3.6 7.4,0 L11.5,0 L11.5,30.6 L18.4,30.6 L18.4,34.3 L0,34.3 L0,30.6 L7.2,30.6 L7.2,8 L0,8 Z" transform="translate(785.50 727.50) scale(1.0000 1.0000)" fill="#002060"/>
<rect x="1107.80" y="755.10" width="5.80" height="6.75" fill="#002060"/>
<path d="M0,4.5 L4.2,4.5 Q6.6,3.6 7.4,0 L11.5,0 L11.5,30.6 L18.4,30.6 L18.4,34.3 L0,34.3 L0,30.6 L7.2,30.6 L7.2,8 L0,8 Z" transform="translate(1051.50 727.50) scale(1.0000 1.0000)" fill="#002060"/>
<rect x="1373.80" y="755.10" width="5.80" height="6.75" fill="#002060"/>
<path d="M0,4.5 L4.2,4.5 Q6.6,3.6 7.4,0 L11.5,0 L11.5,30.6 L18.4,30.6 L18.4,34.3 L0,34.3 L0,30.6 L7.2,30.6 L7.2,8 L0,8 Z" transform="translate(1317.50 727.50) scale(1.0000 1.0000)" fill="#002060"/>
<path d="M0,4.5 L4.2,4.5 Q6.6,3.6 7.4,0 L11.5,0 L11.5,30.6 L18.4,30.6 L18.4,34.3 L0,34.3 L0,30.6 L7.2,30.6 L7.2,8 L0,8 Z" transform="translate(1646.80 727.50) scale(1.0000 1.0000)" fill="#002060"/>
</svg>
</body></html>
